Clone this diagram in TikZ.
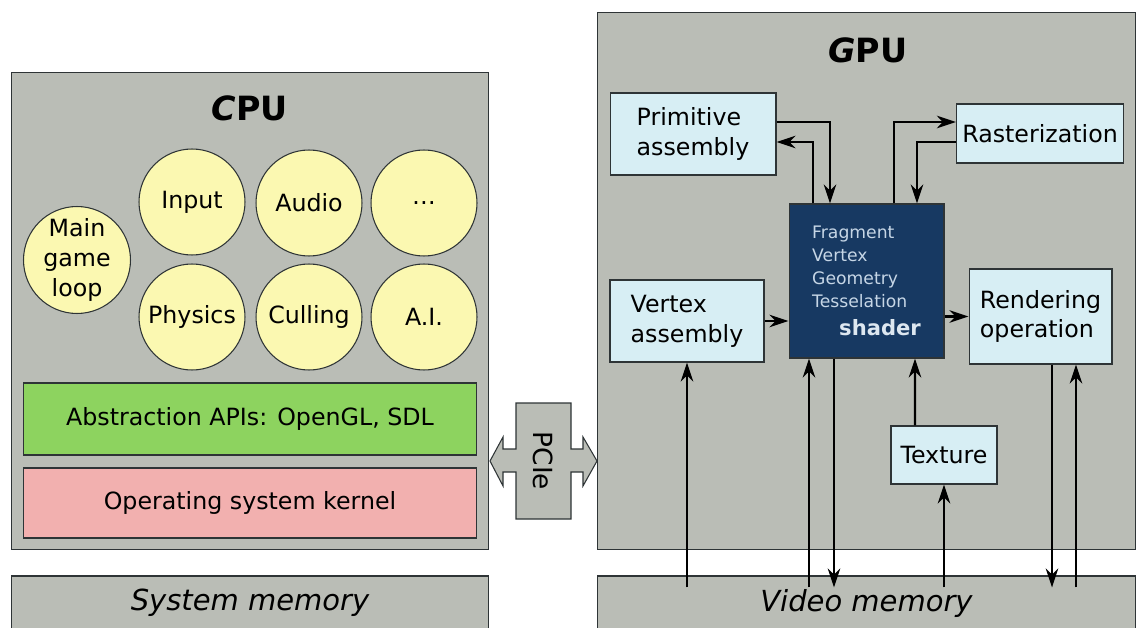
\documentclass[tikz,border=0pt]{standalone}
\usepackage{fontspec}
\setmainfont{DejaVu Sans}
\usetikzlibrary{calc,arrows.meta,positioning}

\definecolor{panelgray}{HTML}{BABDB6}
\definecolor{boxline}{HTML}{2E3436}
\definecolor{taskyellow}{HTML}{FBF8B1}
\definecolor{apigreen}{HTML}{8DD35F}
\definecolor{kernelpink}{HTML}{F2B0AF}
\definecolor{stageblue}{HTML}{D7EEF4}
\definecolor{shaderblue}{HTML}{173962}
\definecolor{shadertext}{HTML}{C6D6E6}

\tikzset{
  panel/.style={draw=boxline, fill=panelgray, line width=0.6pt},
  title/.style={font=\fontsize{19}{22}\selectfont\bfseries},
  memtext/.style={font=\fontsize{16.5}{20}\selectfont\itshape},
  task/.style={circle, draw=boxline, fill=taskyellow, line width=0.6pt,
    minimum size=2.12cm, inner sep=0pt, align=center,
    font=\fontsize{13.5}{17}\selectfont},
  layer/.style={draw=boxline, line width=0.6pt, minimum width=9.08cm,
    font=\fontsize{13.5}{17}\selectfont},
  stage/.style={draw=boxline, fill=stageblue, line width=0.6pt, align=left,
    font=\fontsize{13.5}{17}\selectfont},
  arr/.style={-{Stealth[length=0.38cm,width=0.25cm,inset=0.12cm]}, line width=1.4pt}
}

\begin{document}
\begin{tikzpicture}[x=0.02cm, y=-0.02cm]
    \clip (0,0) rectangle (1138,628);

    % CPU side
    \node[panel, minimum width=9.56cm, minimum height=9.56cm] (cpu) at (250,311) {};
    \node[title] (cputitle) at (250,108) {{\itshape C}PU};
    \node[task, minimum size=2.14cm] (mainloop) at (77,260) {Main\\game\\loop};
    \node[task] (input) at (192,202) {Input};
    \node[task] (audio) at (309,203) {Audio};
    \node[task] (more) at (424,203) {\dots};
    \node[task] (physics) at (192,317) {Physics};
    \node[task] (culling) at (309,317) {Culling};
    \node[task] (ai) at (424,317) {A.I.};
    \node[layer, fill=apigreen, minimum height=1.44cm] (api) at (250,419) {Abstraction APIs: OpenGL, SDL};
    \node[layer, fill=kernelpink, minimum height=1.40cm] (kernel) at (250,503) {Operating system kernel};
    \node[panel, minimum width=9.56cm, minimum height=1.08cm, memtext] (sysmem) at (250,603) {System memory};

    % PCIe link
    \draw[draw=boxline, fill=panelgray, line width=0.6pt]
      (516,403) -- (571,403) -- (571,449) -- (583,449) -- (583,437) -- (597,461)
      -- (583,486) -- (583,472) -- (571,472) -- (571,519) -- (516,519) -- (516,472)
      -- (503,472) -- (503,486) -- (490,461) -- (503,437) -- (503,449) -- (516,449) -- cycle;
    \node[rotate=-90, font=\fontsize{15}{18}\selectfont] (pcie) at (543,461) {PCIe};

    % GPU side
    \node[panel, minimum width=10.78cm, minimum height=10.76cm] (gpu) at (866.5,281) {};
    \node[title] (gputitle) at (868,50) {{\itshape G}PU};
    \node[stage, minimum width=3.32cm, minimum height=1.64cm] (prim) at (693,134) {Primitive\\assembly};
    \node[stage, minimum width=3.08cm, minimum height=1.64cm] (vasm) at (687,321) {Vertex\\assembly};
    \node[stage, minimum width=3.32cm, minimum height=1.18cm] (raster) at (1040,133.5) {Rasterization};
    \node[stage, minimum width=2.86cm, minimum height=1.90cm] (render) at (1040.5,316.5) {Rendering\\operation};
    \node[stage, minimum width=2.12cm, minimum height=1.16cm] (texture) at (944,455) {Texture};
    \node[draw=boxline, fill=shaderblue, line width=0.6pt, minimum width=3.10cm, minimum height=3.08cm] (shader) at (866.5,281) {};
    \node[anchor=west, align=left, text=shadertext, font=\fontsize{9.8}{13}\selectfont] (kinds) at (806,267) {Fragment\\Vertex\\Geometry\\Tesselation};
    \node[text=shadertext!60!white, font=\fontsize{12}{14}\selectfont\bfseries] (shadername) at (880,328) {shader};
    \node[panel, minimum width=10.78cm, minimum height=1.08cm, memtext] (vidmem) at (866.5,603) {Video memory};

    % Pipeline connections
    \draw[arr] ($(prim.east)+(0,-12)$) -| ($(shader.north)+(-36.5,0)$);
    \draw[arr] ($(shader.north)+(-53.5,0)$) |- ($(prim.east)+(0,8)$);
    \draw[arr] ($(shader.north)+(27.5,0)$) |- ($(raster.west)+(0,-11.5)$);
    \draw[arr] ($(raster.west)+(0,8.5)$) -| ($(shader.north)+(50.5,0)$);
    \draw[arr] (vasm.east) -- (vasm.east -| shader.west);
    \draw[arr] (shader.east |- render.west) -- (render.west);
    \draw[arr] ($(texture.north)+(-29,0)$) -- ($(shader.south)+(48.5,0)$);

    % Memory traffic
    \draw[arr] ($(vidmem.north -| vasm.south)+(0,12)$) -- (vasm.south);
    \draw[arr] ($(vidmem.north -| shader.south)+(-57.5,12)$) -- ($(shader.south)+(-57.5,0)$);
    \draw[arr] ($(shader.south)+(-32.5,0)$) -- ($(vidmem.north -| shader.south)+(-32.5,12)$);
    \draw[arr] ($(vidmem.north -| texture.south)+(0,12)$) -- (texture.south);
    \draw[arr] ($(render.south)+(11.5,0)$) -- ($(vidmem.north -| render.south)+(11.5,12)$);
    \draw[arr] ($(vidmem.north -| render.south)+(35.5,12)$) -- ($(render.south)+(35.5,0)$);
\end{tikzpicture}
\end{document}
